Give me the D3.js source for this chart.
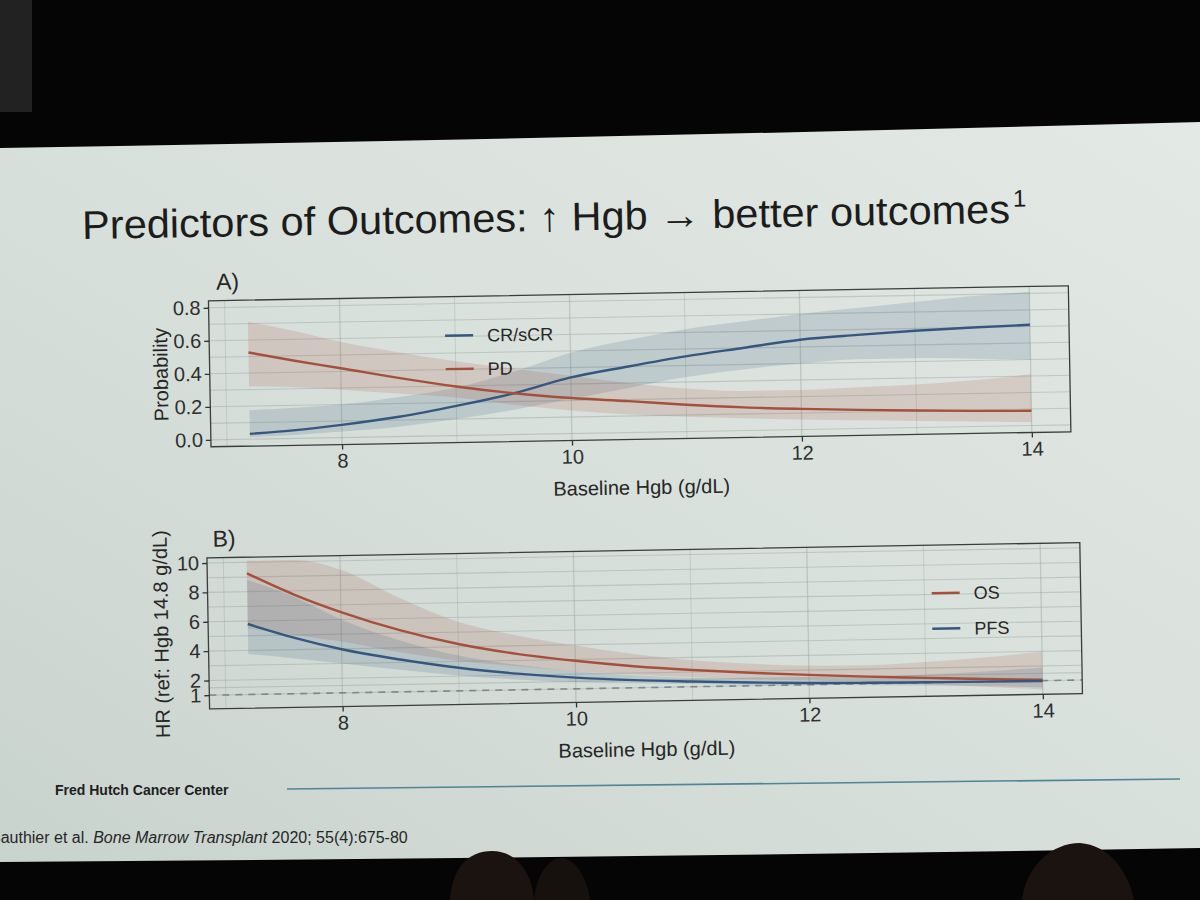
<!DOCTYPE html>
<html>
<head>
<meta charset="utf-8">
<script src="https://cdn.jsdelivr.net/npm/d3@7"></script>
<style>
body { margin: 0; background: #000; }
svg { display: block; font-family: "Liberation Sans", Arial, sans-serif; }
</style>
</head>
<body>
<svg width="1200" height="900"></svg>
<script>
// baseline Hgb grid the fitted curves are read at
var hgb = [7.2, 7.6, 8, 8.5, 9, 9.5, 10, 10.5, 11, 11.5, 12, 12.5, 13, 13.5, 14];

// panel A: probability of response
var crFit = [0.032, 0.05, 0.077, 0.12, 0.18, 0.25, 0.34, 0.40, 0.455, 0.50, 0.544, 0.567, 0.586, 0.60, 0.61];
var crLo  = [0.012, 0.02, 0.036, 0.06, 0.10, 0.15, 0.21, 0.27, 0.33, 0.37, 0.40, 0.42, 0.42, 0.41, 0.40];
var crHi  = [0.175, 0.185, 0.20, 0.24, 0.29, 0.38, 0.49, 0.56, 0.62, 0.66, 0.70, 0.73, 0.76, 0.79, 0.81];
var pdFit = [0.525, 0.47, 0.42, 0.355, 0.297, 0.25, 0.215, 0.19, 0.162, 0.14, 0.125, 0.113, 0.103, 0.095, 0.089];
var pdLo  = [0.32, 0.31, 0.29, 0.26, 0.23, 0.18, 0.14, 0.11, 0.09, 0.075, 0.06, 0.05, 0.04, 0.03, 0.02];
var pdHi  = [0.71, 0.65, 0.58, 0.51, 0.45, 0.40, 0.35, 0.30, 0.26, 0.24, 0.24, 0.25, 0.26, 0.28, 0.31];

// panel B: hazard ratio vs Hgb 14.8
var osFit  = [9.25, 7.75, 6.5, 5.2, 4.19, 3.45, 2.91, 2.47, 2.14, 1.88, 1.67, 1.48, 1.33, 1.18, 1.06];
var osLo   = [5.5, 5.0, 4.5, 3.7, 3.05, 2.6, 2.2, 1.9, 1.65, 1.45, 1.3, 1.1, 0.9, 0.65, 0.4];
var osHi   = [10.1, 10.1, 9.4, 7.4, 5.7, 4.7, 3.95, 3.3, 2.8, 2.5, 2.3, 2.25, 2.4, 2.65, 2.97];
var pfsFit = [5.8, 4.8, 3.97, 3.2, 2.57, 2.1, 1.76, 1.52, 1.36, 1.22, 1.12, 1.06, 1.03, 1.0, 0.98];
var pfsLo  = [3.75, 3.4, 3.0, 2.5, 2.05, 1.7, 1.45, 1.3, 1.18, 1.06, 0.98, 0.9, 0.8, 0.7, 0.55];
var pfsHi  = [8.8, 7.6, 6.0, 4.5, 3.4, 2.7, 2.2, 1.85, 1.6, 1.5, 1.45, 1.45, 1.55, 1.7, 1.9];

var xTicks = [8, 10, 12, 14];
var xGrid = [7, 8, 9, 10, 11, 12, 13, 14];
var probTicks = [0, 0.2, 0.4, 0.6, 0.8];
var probGrid = [0, 0.1, 0.2, 0.3, 0.4, 0.5, 0.6, 0.7, 0.8];
var hrTicks = [1, 2, 4, 6, 8, 10];
var hrGrid = [1, 1.5, 2, 3, 4, 5, 6, 7, 8, 9, 10];

var RED = "#a5503b", BLUE = "#35577f";

var svg = d3.select("svg");
var defs = svg.append("defs");
var grad = defs.append("linearGradient").attr("id", "slidebg")
	.attr("x1", "0").attr("y1", "1").attr("x2", "1").attr("y2", "0");
grad.append("stop").attr("offset", "0").attr("stop-color", "#c9d3ce");
grad.append("stop").attr("offset", "0.5").attr("stop-color", "#d8e0db");
grad.append("stop").attr("offset", "1").attr("stop-color", "#e3e9e5");

svg.append("rect").attr("width", 1200).attr("height", 900).attr("fill", "#050505");
svg.append("rect").attr("x", 0).attr("y", 0).attr("width", 32).attr("height", 112).attr("fill", "#222");

// projected slide
svg.append("path")
	.attr("d", "M0,148 Q600,138 1200,122 L1200,848 Q600,858 0,862 Z")
	.attr("fill", "url(#slidebg)");

var slide = svg.append("g").attr("transform", "rotate(-1,600,500)");

slide.append("text")
	.attr("x", 87).attr("y", 230)
	.attr("font-size", 40).attr("fill", "#1c1c1c")
	.attr("textLength", 928).attr("lengthAdjust", "spacingAndGlyphs")
	.text("Predictors of Outcomes: \u2191 Hgb \u2192 better outcomes");
slide.append("text")
	.attr("x", 1018).attr("y", 214)
	.attr("font-size", 24).attr("fill", "#1c1c1c")
	.text("1");

function drawPanel(p) {
	var x = d3.scaleLinear().domain([6.86, 14.34]).range([p.left, p.right]);
	var y = d3.scaleLinear().domain(p.yDomain).range([p.bottom, p.top]);
	var g = slide.append("g");

	// grid
	g.selectAll(".vg").data(xGrid).enter().append("line")
		.attr("x1", d => x(d)).attr("x2", d => x(d))
		.attr("y1", p.top).attr("y2", p.bottom)
		.attr("stroke", "#9aa5a0").attr("stroke-opacity", 0.45).attr("stroke-width", d => d % 2 ? 0.8 : 1.3);
	g.selectAll(".hg").data(p.grid).enter().append("line")
		.attr("x1", p.left).attr("x2", p.right)
		.attr("y1", d => y(d)).attr("y2", d => y(d))
		.attr("stroke", "#9aa5a0").attr("stroke-opacity", 0.45).attr("stroke-width", 1.1);

	if (p.refLine) {
		g.append("line")
			.attr("x1", p.left).attr("x2", p.right)
			.attr("y1", y(p.refLine)).attr("y2", y(p.refLine))
			.attr("stroke", "#80878a").attr("stroke-width", 1.6).attr("stroke-dasharray", "7,6");
	}

	var area = d3.area().curve(d3.curveMonotoneX)
		.x((d, i) => x(hgb[i]));
	var line = d3.line().curve(d3.curveMonotoneX)
		.x((d, i) => x(hgb[i])).y(d => y(d));

	p.series.forEach(function(s) {
		g.append("path").datum(s.fit)
			.attr("d", area.y0((d, i) => y(s.lo[i])).y1((d, i) => y(s.hi[i])))
			.attr("fill", s.color).attr("fill-opacity", 0.17);
	});
	p.series.forEach(function(s) {
		g.append("path").datum(s.fit)
			.attr("d", line)
			.attr("fill", "none").attr("stroke", s.color).attr("stroke-width", 2.4);
	});

	// panel border
	g.append("rect")
		.attr("x", p.left).attr("y", p.top)
		.attr("width", p.right - p.left).attr("height", p.bottom - p.top)
		.attr("fill", "none").attr("stroke", "#3a3d3c").attr("stroke-width", 1.3);

	var xa = g.append("g").attr("transform", "translate(0," + p.bottom + ")")
		.call(d3.axisBottom(x).tickValues(xTicks).tickSize(5).tickPadding(4));
	var ya = g.append("g").attr("transform", "translate(" + p.left + ",0)")
		.call(d3.axisLeft(y).tickValues(p.ticks).tickFormat(p.fmt).tickSize(5).tickPadding(3));
	[xa, ya].forEach(function(a) {
		a.select(".domain").remove();
		a.selectAll("line").attr("stroke", "#333").attr("stroke-width", 1.3);
		a.selectAll("text").attr("fill", "#2e2e2e").attr("font-size", 20)
			.attr("font-family", "Liberation Sans, Arial, sans-serif");
	});

	g.append("text")
		.attr("x", (p.left + p.right) / 2).attr("y", p.bottom + 55)
		.attr("text-anchor", "middle").attr("font-size", 20).attr("fill", "#262626")
		.text("Baseline Hgb (g/dL)");
	g.append("text")
		.attr("transform", "translate(" + p.ylabX + "," + ((p.top + p.bottom) / 2) + ") rotate(-90)")
		.attr("text-anchor", "middle").attr("font-size", 20).attr("fill", "#262626")
		.text(p.ylab);
	g.append("text")
		.attr("x", p.tagX).attr("y", p.top - 11)
		.attr("font-size", 23).attr("fill", "#262626")
		.text(p.tag);

	// legend
	var lg = g.selectAll(".leg").data(p.series).enter().append("g")
		.attr("transform", (d, i) => "translate(" + p.legX + "," + (p.legY + i * p.legGap) + ")");
	lg.append("line").attr("x1", 0).attr("x2", 28)
		.attr("stroke", d => d.color).attr("stroke-width", 2.4);
	lg.append("text").attr("x", 42).attr("y", 6.5)
		.attr("font-size", 18).attr("fill", "#262626")
		.text(d => d.name);
}

drawPanel({
	left: 212, right: 1072, top: 294, bottom: 440,
	yDomain: [-0.042, 0.842], ticks: probTicks, grid: probGrid, fmt: d3.format(".1f"),
	ylab: "Probability", ylabX: 170, tag: "A)", tagX: 220,
	legX: 448, legY: 333, legGap: 33.5,
	series: [
		{ name: "CR/sCR", color: BLUE, fit: crFit, lo: crLo, hi: crHi },
		{ name: "PD", color: RED, fit: pdFit, lo: pdLo, hi: pdHi }
	]
});

drawPanel({
	left: 206, right: 1079, top: 551, bottom: 702,
	yDomain: [0.07, 10.35], ticks: hrTicks, grid: hrGrid, fmt: d3.format("d"),
	ylab: "HR (ref: Hgb 14.8 g/dL)", ylabX: 166, tag: "B)", tagX: 212, refLine: 1,
	legX: 930, legY: 599, legGap: 35.5,
	series: [
		{ name: "OS", color: RED, fit: osFit, lo: osLo, hi: osHi },
		{ name: "PFS", color: BLUE, fit: pfsFit, lo: pfsLo, hi: pfsHi }
	]
});

// footer
svg.append("text").attr("x", 55).attr("y", 795)
	.attr("font-size", 14).attr("font-weight", "bold").attr("fill", "#1e1e1e")
	.text("Fred Hutch Cancer Center");
svg.append("line").attr("x1", 287).attr("y1", 789).attr("x2", 1180).attr("y2", 779)
	.attr("stroke", "#4f8597").attr("stroke-width", 1.6);
var cite = svg.append("text").attr("x", -10).attr("y", 843)
	.attr("font-size", 16).attr("fill", "#262626");
cite.append("tspan").text("Sauthier et al. ");
cite.append("tspan").attr("font-style", "italic").text("Bone Marrow Transplant");
cite.append("tspan").text(" 2020; 55(4):675-80");

// audience heads
svg.append("path").attr("d", "M450,900 C452,868 468,851 492,851 C516,851 532,872 534,900 Z").attr("fill", "#1a1310");
svg.append("path").attr("d", "M534,900 C536,876 548,858 562,858 C578,860 588,882 590,900 Z").attr("fill", "#17110e");
svg.append("path").attr("d", "M1022,900 C1026,866 1052,843 1080,843 C1108,845 1128,870 1134,900 Z").attr("fill", "#1a1310");
</script>
</body>
</html>
